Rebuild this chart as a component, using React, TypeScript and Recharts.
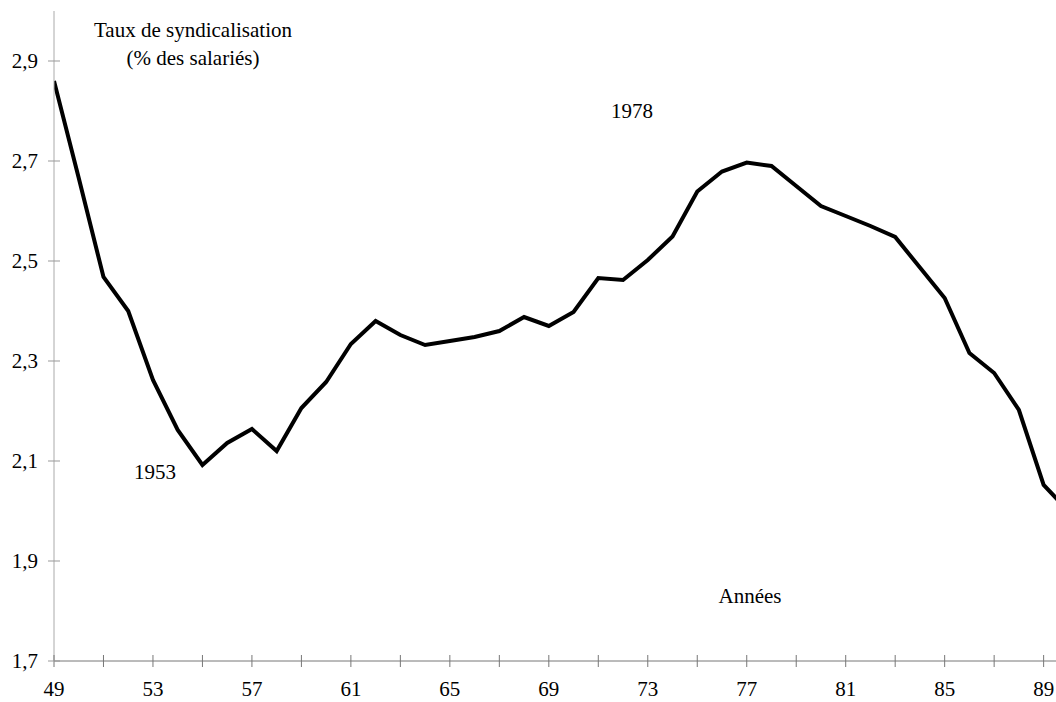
import React from "react";
import { LineChart, Line, XAxis, YAxis } from "recharts";

const years = [
  49, 50, 51, 52, 53, 54, 55, 56, 57, 58, 59, 60, 61, 62, 63, 64, 65, 66, 67, 68, 69,
  70, 71, 72, 73, 74, 75, 76, 77, 78, 79, 80, 81, 82, 83, 84, 85, 86, 87, 88, 89, 90,
];
const taux = [
  2.86, 2.666, 2.468, 2.4, 2.262, 2.162, 2.092, 2.136, 2.164, 2.12, 2.206, 2.258, 2.334,
  2.38, 2.352, 2.332, 2.34, 2.348, 2.36, 2.388, 2.37, 2.398, 2.466, 2.462, 2.502, 2.549,
  2.639, 2.679, 2.697, 2.69, 2.65, 2.61, 2.59, 2.57, 2.548, 2.487, 2.426, 2.316, 2.276,
  2.202, 2.052, 2.0,
];
const xTicks = [49, 51, 53, 55, 57, 59, 61, 63, 65, 67, 69, 71, 73, 75, 77, 79, 81, 83, 85, 87, 89];
const xLabelled = [49, 53, 57, 61, 65, 69, 73, 77, 81, 85, 89];
const yTicks = [1.7, 1.9, 2.1, 2.3, 2.5, 2.7, 2.9];

const data = years.map((y, i) => ({ annee: y, taux: taux[i] }));

const FONT = "'Liberation Serif', 'Times New Roman', serif";

const XTick = (props: any) => {
  const { x, y, payload } = props;
  const v = payload.value;
  return (
    <g>
      <line x1={x} x2={x} y1={y - 6} y2={y + 6} stroke="#777" strokeWidth={1} />
      {xLabelled.includes(v) && (
        <text x={x} y={y + 35} textAnchor="middle" fontSize={21} fontFamily={FONT} fill="#000">
          {v}
        </text>
      )}
    </g>
  );
};

const YTick = (props: any) => {
  const { x, y, payload } = props;
  return (
    <g>
      <line x1={x - 6} x2={x + 6} y1={y} y2={y} stroke="#999" strokeWidth={1} />
      <text x={x - 16} y={y} dy="0.35em" textAnchor="end" fontSize={21} fontFamily={FONT} fill="#000">
        {String(payload.value.toFixed(1)).replace(".", ",")}
      </text>
    </g>
  );
};

const labelStyle = (left: number, top: number): React.CSSProperties => ({
  position: "absolute",
  left,
  top,
  transform: "translate(-50%, -50%)",
  fontFamily: FONT,
  fontSize: 21,
  lineHeight: "28px",
  textAlign: "center",
  whiteSpace: "nowrap",
  color: "#000",
});

export default function App() {
  return (
    <div style={{ position: "absolute", left: 0, top: 0, width: 1056, height: 702, background: "#fff" }}>
      <LineChart width={1056} height={702} data={data} margin={{ top: 11, right: 0, left: 0, bottom: 0 }}>
        <XAxis
          dataKey="annee"
          type="number"
          domain={[49, 89.5]}
          allowDataOverflow
          ticks={xTicks}
          interval={0}
          tickSize={0}
          tickMargin={0}
          tickLine={false}
          tick={<XTick />}
          axisLine={{ stroke: "#777" }}
          height={41}
        />
        <YAxis
          type="number"
          domain={[1.7, 3.0]}
          ticks={yTicks}
          interval={0}
          tickSize={0}
          tickMargin={0}
          tickLine={false}
          tick={<YTick />}
          axisLine={{ stroke: "#aaa" }}
          width={54}
        />
        <Line
          type="linear"
          dataKey="taux"
          stroke="#000"
          strokeWidth={4}
          dot={false}
          isAnimationActive={false}
        />
      </LineChart>
      <div style={labelStyle(193, 44)}>
        Taux de syndicalisation
        <br />
        (% des salariés)
      </div>
      <div style={labelStyle(632, 111)}>1978</div>
      <div style={labelStyle(155, 472)}>1953</div>
      <div style={labelStyle(750, 596)}>Années</div>
    </div>
  );
}
